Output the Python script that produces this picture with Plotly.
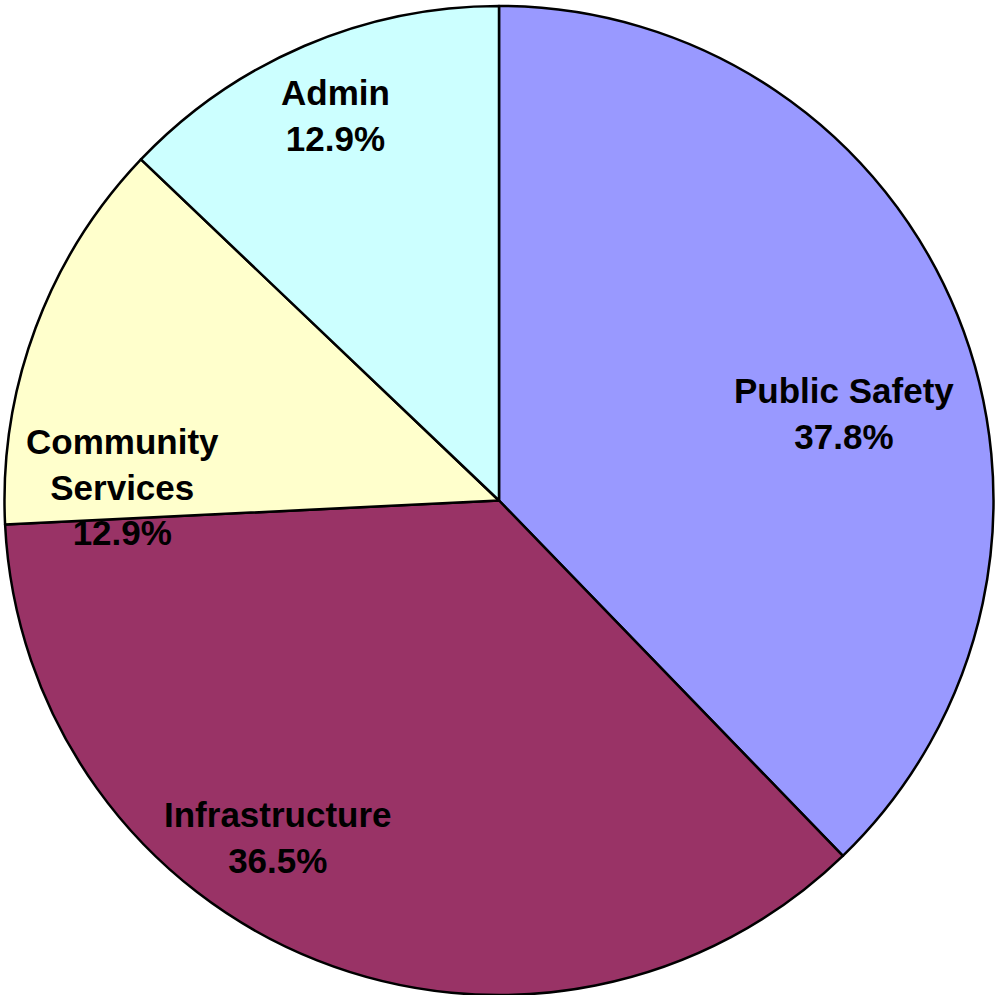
import plotly.graph_objects as go

# Data
categories = ["Public Safety", "Infrastructure", "Community Services", "Admin"]
values = [37.8, 36.5, 12.9, 12.9]
colors = ["#9999FF", "#993366", "#FFFFCC", "#CCFFFF"]
display_labels = ["Public Safety", "Infrastructure", "Community<br>Services", "Admin"]

W, H = 998, 995
ML, MR, MT, MB = 1, 1, 6, 0

fig = go.Figure(go.Pie(
    labels=categories,
    values=values,
    sort=False,
    direction="clockwise",
    rotation=0,
    marker=dict(colors=colors, line=dict(color="black", width=2.5)),
    textinfo="none",
    hoverinfo="label+percent",
    showlegend=False,
))

# Label anchor positions in pixels (center of text block)
label_px = [(844, 414), (278, 837), (122, 487), (335, 116)]

annotations = []
for lab, v, (px, py) in zip(display_labels, values, label_px):
    annotations.append(dict(
        x=(px - ML) / (W - ML - MR),
        y=(H - MB - py) / (H - MT - MB),
        xref="paper", yref="paper",
        xanchor="center", yanchor="middle",
        text=f"<b>{lab}<br>{v:.1f}%</b>",
        showarrow=False,
        font=dict(family="Liberation Sans, Arial, sans-serif", size=35, color="black"),
        align="center",
    ))

fig.update_layout(
    width=W, height=H,
    margin=dict(l=ML, r=MR, t=MT, b=MB),
    paper_bgcolor="white",
    plot_bgcolor="white",
    annotations=annotations,
)

fig.write_html("out.html")
